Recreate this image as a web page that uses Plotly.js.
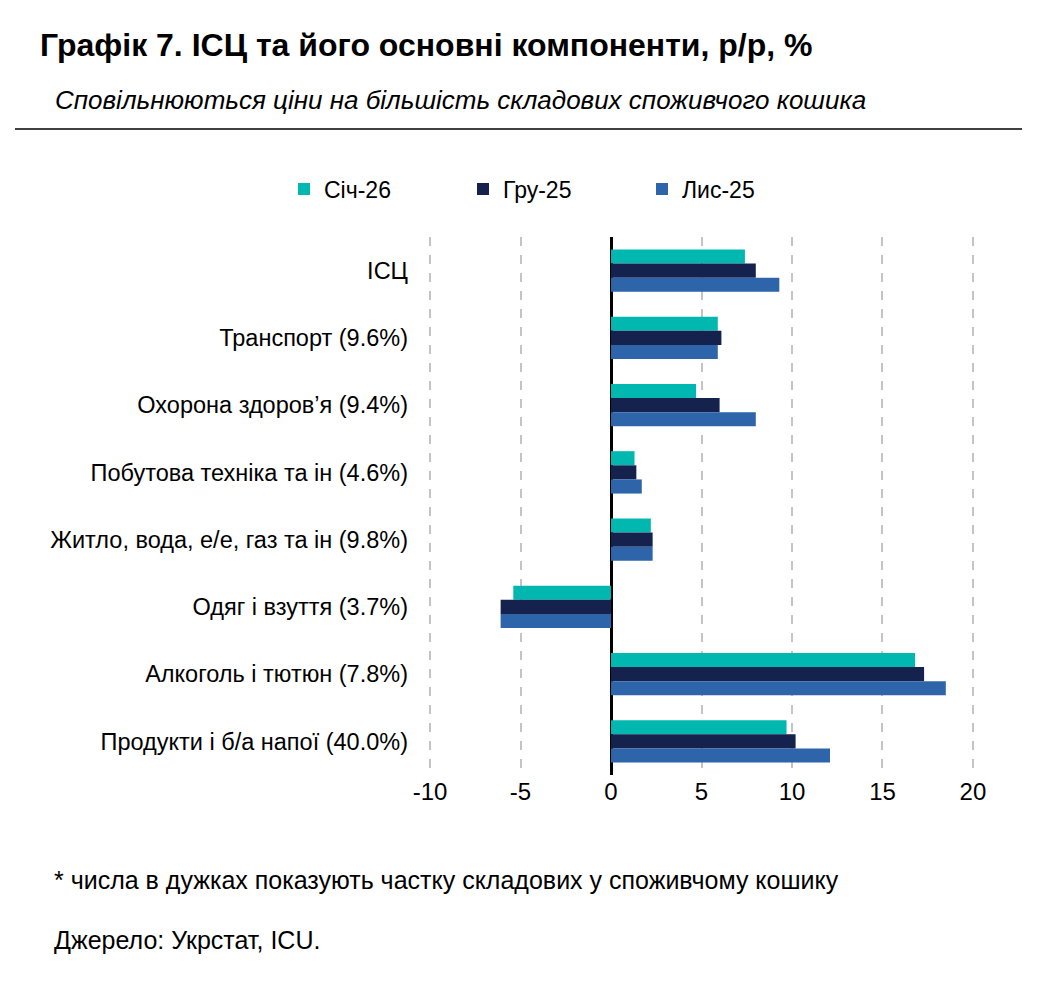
<!DOCTYPE html>
<html>
<head>
<meta charset="utf-8">
<script src="https://cdn.plot.ly/plotly-3.0.1.min.js"></script>
<style>
html,body{margin:0;padding:0;background:#fff;}
#chart{width:1040px;height:989px;}
</style>
</head>
<body>
<div id="chart"></div>
<script>
const categories = ["ІСЦ", "Транспорт (9.6%)", "Охорона здоров’я (9.4%)", "Побутова техніка та ін (4.6%)", "Житло, вода, е/е, газ та ін (9.8%)", "Одяг і взуття (3.7%)", "Алкоголь і тютюн (7.8%)", "Продукти і б/а напої (40.0%)"];
const seriesNames = ["Січ-26", "Гру-25", "Лис-25"];
const sich26 = [7.4, 5.9, 4.7, 1.3, 2.2, -5.4, 16.8, 9.7];
const hru25  = [8.0, 6.1, 6.0, 1.4, 2.3, -6.1, 17.3, 10.2];
const lys25  = [9.3, 5.9, 8.0, 1.7, 2.3, -6.1, 18.5, 12.1];
const xTicks = [-10, -5, 0, 5, 10, 15, 20];

const colors = ["#00B8B0", "#16224E", "#2E64AA"];
const values = [sich26, hru25, lys25];
const FONT = "Liberation Sans Narrow, Arial Narrow, Liberation Sans, sans-serif";

const traces = values.map((v, i) => ({
  type: "bar",
  orientation: "h",
  name: seriesNames[i],
  x: v,
  y: categories,
  marker: {color: colors[i], line: {width: 0}},
  hoverinfo: "x+y+name"
}));

// plot area geometry (pixels)
const L = 421, R = 982, T = 237, B = 775, W = 1040, H = 989;
const pw = R - L, ph = B - T;
const px = x => (x - L) / pw;
const py = y => (B - y) / ph;

const layout = {
  width: W, height: H,
  margin: {l: L, r: W - R, t: T, b: H - B, pad: 0},
  paper_bgcolor: "#fff",
  plot_bgcolor: "#fff",
  font: {family: FONT, size: 22, color: "#000"},
  barmode: "group",
  bargap: 0.37,
  bargroupgap: 0,
  showlegend: true,
  legend: {
    orientation: "h",
    x: px(284), y: py(189), xanchor: "left", yanchor: "middle",
    font: {family: FONT, size: 23, color: "#000"},
    entrywidth: 134, entrywidthmode: "pixels",
    itemwidth: 30,
    bgcolor: "rgba(0,0,0,0)"
  },
  xaxis: {
    range: [-10.5, 20.5],
    tickvals: xTicks,
    ticktext: xTicks.map(String),
    showgrid: true,
    gridcolor: "#C4C4C4",
    gridwidth: 2,
    griddash: "dash",
    zeroline: true,
    zerolinecolor: "#000",
    zerolinewidth: 3,
    showline: false,
    ticks: "",
    tickfont: {family: FONT, size: 24, color: "#000"},
    fixedrange: true
  },
  yaxis: {
    autorange: "reversed",
    showgrid: false,
    zeroline: false,
    showline: false,
    ticks: "",
    ticklabelstandoff: 12,
    tickfont: {family: FONT, size: 23.5, color: "#000"},
    fixedrange: true
  },
  shapes: [{
    type: "line", xref: "paper", yref: "paper",
    x0: px(15), x1: px(1022), y0: py(129), y1: py(129),
    line: {color: "#000", width: 1.5}
  }],
  annotations: [
    {text: "<b>Графік 7. ІСЦ та його основні компоненти, р/р, %</b>", xref: "paper", yref: "paper",
     x: px(38), y: py(45), xanchor: "left", yanchor: "middle", showarrow: false,
     font: {family: FONT, size: 32, color: "#000"}},
    {text: "<i>Сповільнюються ціни на більшість складових споживчого кошика</i>", xref: "paper", yref: "paper",
     x: px(53), y: py(100), xanchor: "left", yanchor: "middle", showarrow: false,
     font: {family: FONT, size: 26, color: "#000"}},
    {text: "* числа в дужках показують частку складових у споживчому кошику", xref: "paper", yref: "paper",
     x: px(52), y: py(880), xanchor: "left", yanchor: "middle", showarrow: false,
     font: {family: FONT, size: 25, color: "#000"}},
    {text: "Джерело: Укрстат, ICU.", xref: "paper", yref: "paper",
     x: px(52), y: py(940), xanchor: "left", yanchor: "middle", showarrow: false,
     font: {family: FONT, size: 25, color: "#000"}}
  ]
};

Plotly.newPlot("chart", traces, layout, {displayModeBar: false, staticPlot: true});
</script>
</body>
</html>
